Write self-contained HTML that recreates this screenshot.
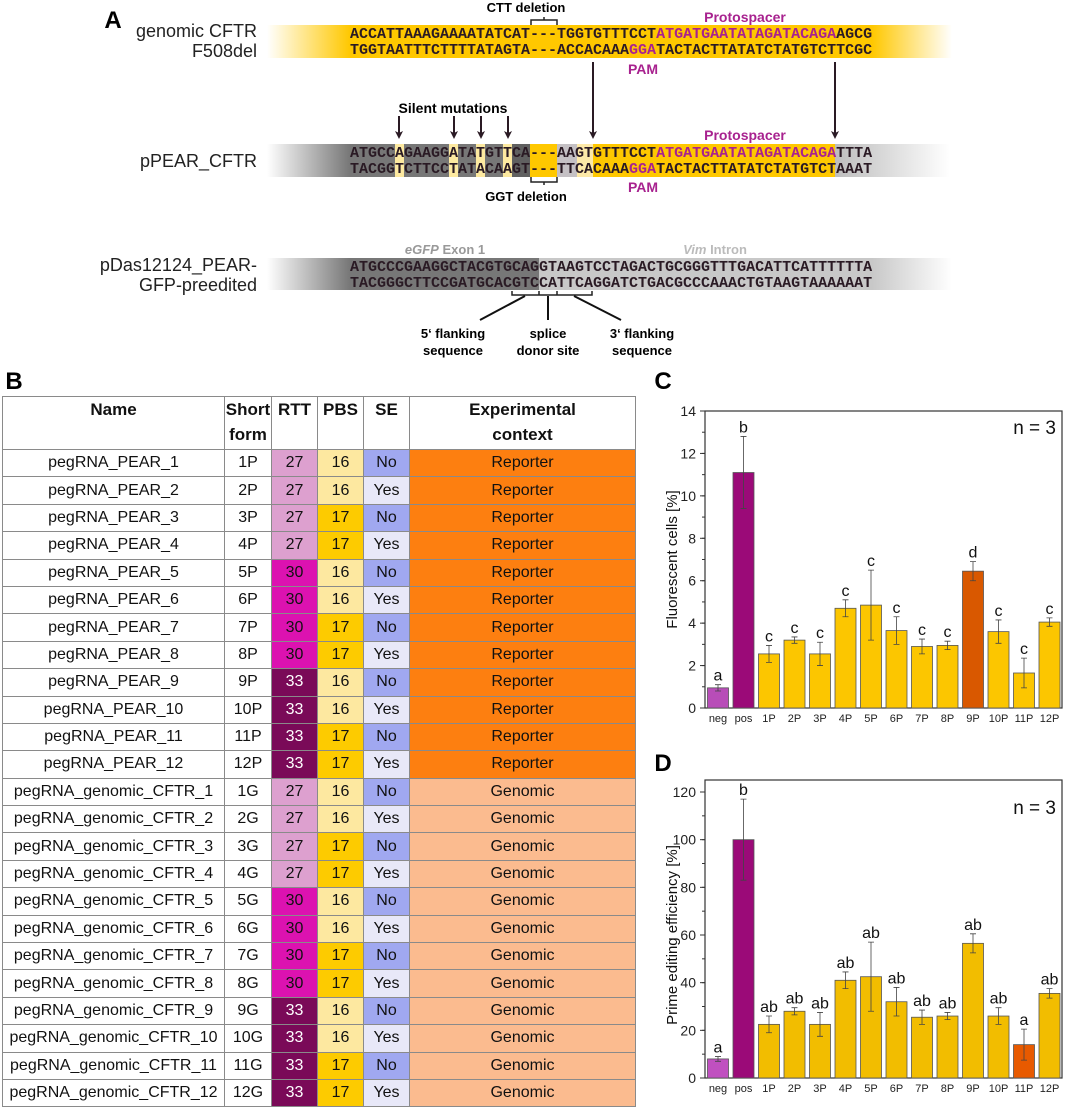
<!DOCTYPE html>
<html><head><meta charset="utf-8"><style>
body{margin:0;background:#fff;width:1065px;height:1111px;overflow:hidden;position:relative;font-family:"Liberation Sans",sans-serif}
svg{position:absolute;left:0;top:0}
table{position:absolute;left:2px;top:396px;border-collapse:collapse;font-size:16px;table-layout:fixed}
td,th{border:1px solid #8a8a8a;text-align:center;padding:0;height:26.4px;line-height:26px;color:#111;white-space:nowrap;overflow:hidden}
th{font-weight:bold;height:52px;line-height:25px;vertical-align:top;font-size:17px}
</style></head><body>
<svg width="1065" height="1111">
<defs>
<linearGradient id="yl" x1="0" x2="1"><stop offset="0" stop-color="#ffc800" stop-opacity="0"/><stop offset="1" stop-color="#ffc800"/></linearGradient>
<linearGradient id="yr" x1="0" x2="1"><stop offset="0" stop-color="#ffc800"/><stop offset="1" stop-color="#ffc800" stop-opacity="0"/></linearGradient>
<linearGradient id="gl" x1="0" x2="1"><stop offset="0" stop-color="#777" stop-opacity="0"/><stop offset="1" stop-color="#777"/></linearGradient>
<linearGradient id="gr" x1="0" x2="1"><stop offset="0" stop-color="#bdbdbd"/><stop offset="1" stop-color="#bdbdbd" stop-opacity="0"/></linearGradient>
<linearGradient id="lr" x1="0" x2="1"><stop offset="0" stop-color="#c8c8c8"/><stop offset="1" stop-color="#c8c8c8" stop-opacity="0"/></linearGradient>
</defs>
<g font-family="Liberation Sans, sans-serif">
<text x="113" y="28" font-size="24" font-weight="bold" text-anchor="middle">A</text>
<rect x="267" y="25" width="83" height="33" fill="url(#yl)"/>
<rect x="350" y="25" width="522" height="33" fill="#ffc800"/>
<rect x="872" y="25" width="80" height="33" fill="url(#yr)"/>
<text x="257" y="37" font-size="18" text-anchor="end" fill="#222">genomic CFTR</text>
<text x="257" y="57" font-size="18" text-anchor="end" fill="#222">F508del</text>
<text x="526" y="12" font-size="13" font-weight="bold" text-anchor="middle">CTT deletion</text>
<path d="M531,25 V20 H557 V25 M544,20 V17" stroke="#222" stroke-width="1.5" fill="none"/>
<text x="745" y="22" font-size="14" font-weight="bold" text-anchor="middle" fill="#a8228f">Protospacer</text>
<g font-family="Liberation Mono, monospace" font-size="15" font-weight="bold" fill="#2a1a24">
<text x="350" y="38">ACCATTAAAGAAAATATCAT---TGGTGTTTCCT<tspan fill="#a8228f">ATGATGAATATAGATACAGA</tspan>AGCG</text>
<text x="350" y="54">TGGTAATTTCTTTTATAGTA---ACCACAAA<tspan fill="#a8228f">GGA</tspan>TACTACTTATATCTATGTCTTCGC</text>
</g>
<text x="643" y="74" font-size="14" font-weight="bold" text-anchor="middle" fill="#a8228f">PAM</text>
<g id="arrows"></g>
<text x="453" y="113" font-size="14" font-weight="bold" text-anchor="middle">Silent mutations</text>
<rect x="267" y="144" width="83" height="33" fill="url(#gl)"/>
<rect x="350" y="144" width="180" height="33" fill="#777"/>
<rect x="512" y="144" width="18" height="33" fill="#606060"/>
<rect x="395" y="144" width="9" height="33" fill="#fde9a0"/>
<rect x="449" y="144" width="9" height="33" fill="#fde9a0"/>
<rect x="476" y="144" width="9" height="33" fill="#fde9a0"/>
<rect x="503" y="144" width="9" height="33" fill="#fde9a0"/>
<rect x="530" y="144" width="27" height="33" fill="#ffc800"/>
<rect x="557" y="144" width="20" height="33" fill="#c4c0c4"/>
<rect x="577" y="144" width="16" height="33" fill="#fde9a8"/>
<rect x="593" y="144" width="242" height="33" fill="#ffc800"/>
<rect x="835" y="144" width="115" height="33" fill="url(#gr)"/>
<text x="257" y="167" font-size="18" text-anchor="end" fill="#222">pPEAR_CFTR</text>
<text x="745" y="140" font-size="14" font-weight="bold" text-anchor="middle" fill="#a8228f">Protospacer</text>
<g font-family="Liberation Mono, monospace" font-size="15" font-weight="bold" fill="#2a1a24">
<text x="350" y="157">ATGCCAGAAGGATATGTTCA---AAGTGTTTCCT<tspan fill="#a8228f">ATGATGAATATAGATACAGA</tspan>TTTA</text>
<text x="350" y="173">TACGGTCTTCCTATACAAGT---TTCACAAA<tspan fill="#a8228f">GGA</tspan>TACTACTTATATCTATGTCTAAAT</text>
</g>
<text x="643" y="192" font-size="14" font-weight="bold" text-anchor="middle" fill="#a8228f">PAM</text>
<path d="M531,177 V182 H557 V177 M544,182 V185" stroke="#222" stroke-width="1.5" fill="none"/>
<text x="526" y="201" font-size="13" font-weight="bold" text-anchor="middle">GGT deletion</text>
<text x="445" y="254" font-size="13" font-weight="bold" text-anchor="middle" fill="#999"><tspan font-style="italic">eGFP</tspan> Exon 1</text>
<text x="715" y="254" font-size="13" font-weight="bold" text-anchor="middle" fill="#bbb"><tspan font-style="italic">Vim</tspan> Intron</text>
<rect x="267" y="258" width="83" height="32" fill="url(#gl)"/>
<rect x="350" y="258" width="189" height="32" fill="#777"/>
<rect x="539" y="258" width="333" height="32" fill="#c8c8c8"/>
<rect x="872" y="258" width="80" height="32" fill="url(#lr)"/>
<text x="257" y="271" font-size="18" text-anchor="end" fill="#222">pDas12124_PEAR-</text>
<text x="257" y="291" font-size="18" text-anchor="end" fill="#222">GFP-preedited</text>
<g font-family="Liberation Mono, monospace" font-size="15" font-weight="bold" fill="#2a1a24">
<text x="350" y="271">ATGCCCGAAGGCTACGTGCAGGTAAGTCCTAGACTGCGGGTTTGACATTCATTTTTTA</text>
<text x="350" y="287">TACGGGCTTCCGATGCACGTCCATTCAGGATCTGACGCCCAAACTGTAAGTAAAAAAT</text>
</g>
<path d="M512,291 V295 H539 V291 M539,295 H557 V291 M557,295 H592 V291" stroke="#222" stroke-width="1.5" fill="none"/>
<line x1="525" y1="296" x2="480" y2="320" stroke="#111" stroke-width="2"/>
<line x1="548" y1="296" x2="548" y2="320" stroke="#111" stroke-width="2"/>
<line x1="574" y1="296" x2="621" y2="320" stroke="#111" stroke-width="2"/>
<g font-size="13" font-weight="bold" text-anchor="middle">
<text x="453" y="338">5‘ flanking</text><text x="453" y="355">sequence</text>
<text x="548" y="338">splice</text><text x="548" y="355">donor site</text>
<text x="642" y="338">3‘ flanking</text><text x="642" y="355">sequence</text>
</g>
</g>
<text x="14" y="389" font-size="24" font-weight="bold" text-anchor="middle">B</text>
<text x="663" y="389" font-size="24" font-weight="bold" text-anchor="middle">C</text>
<text x="663" y="771" font-size="24" font-weight="bold" text-anchor="middle">D</text>
<g id="chartC"></g>
<g id="chartD"></g>
</svg>
<table id="tbl">
<colgroup><col style="width:222px"><col style="width:47px"><col style="width:46px"><col style="width:46px"><col style="width:46px"><col style="width:226px"></colgroup>
<thead><tr><th>Name</th><th>Short<br>form</th><th>RTT</th><th>PBS</th><th>SE</th><th>Experimental<br>context</th></tr></thead>
<tbody id="tb"></tbody>
</table>
<script>
const cats=["neg","pos","1P","2P","3P","4P","5P","6P","7P","8P","9P","10P","11P","12P"];
const cVals=[0.95,11.1,2.55,3.2,2.55,4.7,4.85,3.65,2.9,2.95,6.45,3.6,1.65,4.05];
const cErr=[0.15,1.7,0.4,0.15,0.55,0.4,1.65,0.65,0.35,0.2,0.45,0.55,0.7,0.2];
const cLetters=["a","b","c","c","c","c","c","c","c","c","d","c","c","c"];
const cTicks=[0,2,4,6,8,10,12,14];
const dVals=[8,100,22.5,28,22.5,41,42.5,32,25.5,26,56.5,26,14,35.5];
const dErr=[1,17,3.5,1.5,5,3.5,14.5,6,3,1.5,4,3.5,6.5,2];
const dLetters=["a","b","ab","ab","ab","ab","ab","ab","ab","ab","ab","ab","a","ab"];
const dTicks=[0,20,40,60,80,100,120];
const tNames=["pegRNA_PEAR_1","pegRNA_PEAR_2","pegRNA_PEAR_3","pegRNA_PEAR_4","pegRNA_PEAR_5","pegRNA_PEAR_6","pegRNA_PEAR_7","pegRNA_PEAR_8","pegRNA_PEAR_9","pegRNA_PEAR_10","pegRNA_PEAR_11","pegRNA_PEAR_12","pegRNA_genomic_CFTR_1","pegRNA_genomic_CFTR_2","pegRNA_genomic_CFTR_3","pegRNA_genomic_CFTR_4","pegRNA_genomic_CFTR_5","pegRNA_genomic_CFTR_6","pegRNA_genomic_CFTR_7","pegRNA_genomic_CFTR_8","pegRNA_genomic_CFTR_9","pegRNA_genomic_CFTR_10","pegRNA_genomic_CFTR_11","pegRNA_genomic_CFTR_12"];
const tRTT=[27,27,27,27,30,30,30,30,33,33,33,33,27,27,27,27,30,30,30,30,33,33,33,33];
const tPBS=[16,16,17,17,16,16,17,17,16,16,17,17,16,16,17,17,16,16,17,17,16,16,17,17];
const tSE=["No","Yes","No","Yes","No","Yes","No","Yes","No","Yes","No","Yes","No","Yes","No","Yes","No","Yes","No","Yes","No","Yes","No","Yes"];

const rttCol={27:"#dda0cf",30:"#dc12b0",33:"#7a0a58"};
const pbsCol={16:"#fde8a0",17:"#fdcb00"};
const seCol={No:"#a0a8f0",Yes:"#e8e8f8"};
const tb=document.getElementById('tb');
tNames.forEach((n,i)=>{
  const tr=document.createElement('tr');
  
  
  const short=(i<12?(i+1)+"P":(i-11)+"G");
  const ctx=i<12?"Reporter":"Genomic";
  tr.innerHTML=`<td>${n}</td><td>${short}</td><td style="background:${rttCol[tRTT[i]]};color:${tRTT[i]==33?'#fff':'#111'}">${tRTT[i]}</td><td style="background:${pbsCol[tPBS[i]]}">${tPBS[i]}</td><td style="background:${seCol[tSE[i]]}">${tSE[i]}</td><td style="background:${i<12?'#fd7f10':'#fbbb8f'}">${ctx}</td>`;
  tb.appendChild(tr);
});

const NS="http://www.w3.org/2000/svg";
function mk(p,tag,at){const e=document.createElementNS(NS,tag);for(const k in at)e.setAttribute(k,at[k]);p.appendChild(e);return e;}
const ag=document.getElementById('arrows');
function arrow(x,y1,y2){
  mk(ag,'line',{x1:x,x2:x,y1:y1,y2:y2-6,stroke:'#2a1a24','stroke-width':2});
  const p=mk(ag,'path',{d:`M${x-4},${y2-8} L${x},${y2} L${x+4},${y2-8} L${x},${y2-6} Z`,fill:'#2a1a24'});
  
  
}
arrow(593,62,139);arrow(835,62,139);
arrow(399,116,139);arrow(454,116,139);arrow(481,116,139);arrow(508,116,139);

function draw(id,vals,errs,letters,ticks,top,bottom,ymax,minorStep,title,colors){
  const g=document.getElementById(id);
  const L=705,R=1062;
  const y=v=>bottom-(v/ymax)*(bottom-top);
  const x=i=>718+i*25.5;
  mk(g,'rect',{x:L,y:top-(id=='chartD'?12:0),width:R-L,height:bottom-top+(id=='chartD'?12:0),fill:'none',stroke:'#333','stroke-width':1.2});
  for(let v=0;v<=ymax+1e-9;v+=minorStep){mk(g,'line',{x1:L-3,x2:L,y1:y(v),y2:y(v),stroke:'#333'});}
  ticks.forEach(t=>{mk(g,'line',{x1:L-5,x2:L,y1:y(t),y2:y(t),stroke:'#333'});
    const tx=mk(g,'text',{x:L-9,y:y(t)+5,'font-size':14,'text-anchor':'end',fill:'#222'});tx.textContent=t;
    
    });
  vals.forEach((v,i)=>{
    const b=mk(g,'rect',{x:x(i)-10.5,y:y(v),width:21,height:bottom-y(v),fill:colors[i],stroke:'#555','stroke-width':0.8});
    
    
    const e=errs[i];
    mk(g,'path',{d:`M${x(i)},${y(v+e)}V${y(v-e)}M${x(i)-3},${y(v+e)}H${x(i)+3}M${x(i)-3},${y(v-e)}H${x(i)+3}`,stroke:'#444','stroke-width':0.8,fill:'none'});
    const lt=mk(g,'text',{x:x(i),y:y(v+e)-4,'font-size':16,'text-anchor':'middle',fill:'#111'});lt.textContent=letters[i];
    
    
    const xl=mk(g,'text',{x:x(i),y:bottom+14,'font-size':11,'text-anchor':'middle',fill:'#222'});xl.textContent=cats[i];
    
    
  });
  const n=mk(g,'text',{x:1056,y:top+(id=='chartD'?22:23),'font-size':19,'text-anchor':'end',fill:'#111'});n.textContent='n = 3';
  
  
  const cy=(top+bottom)/2;
  const tt=mk(g,'text',{x:0,y:0,'font-size':15,'text-anchor':'middle',fill:'#111',transform:`translate(677,${cy}) rotate(-90)`});tt.textContent=title;
  
  
}
const Y="#fcc600",Y2="#f2bd00";
draw('chartC',cVals,cErr,cLetters,cTicks,411,708,14,1,'Fluorescent cells [%]',["#b84db8","#9b0a78",Y,Y,Y,Y,Y,Y,Y,Y,"#d95800",Y,Y,Y]);
draw('chartD',dVals,dErr,dLetters,dTicks,792,1078,120,10,'Prime editing efficiency [%]',["#c050c0","#9b0a78",Y2,Y2,Y2,Y2,Y2,Y2,Y2,Y2,Y2,Y2,"#e85a00",Y2]);
</script>
</body></html>
